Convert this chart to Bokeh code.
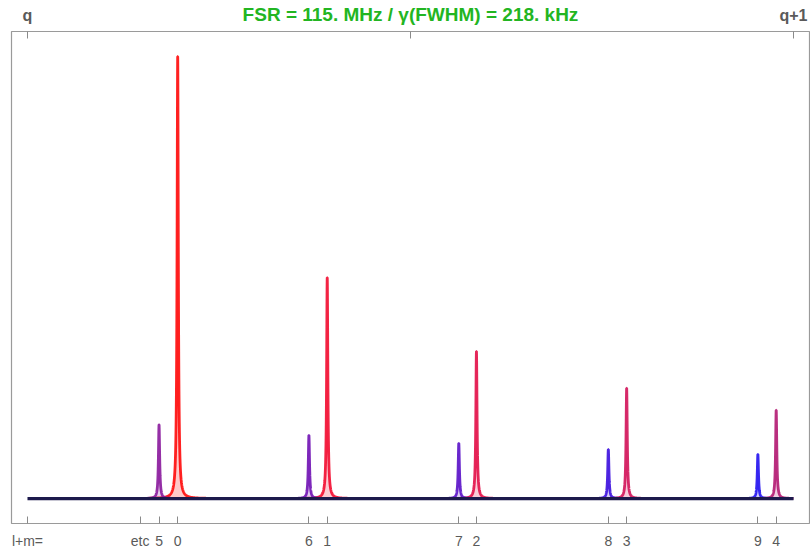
import numpy as np
from bokeh.plotting import figure
from bokeh.models import Range1d, LinearAxis, FixedTicker
from bokeh.embed import file_html
from bokeh.resources import INLINE

# ---- data ----
FSR_MHZ = 115.0
FWHM_MHZ = 0.218
mode_lm = [0, 1, 2, 3, 4, 5, 6, 7, 8, 9]
mode_freq = [22.55, 45.0, 67.4, 89.95, 112.4, 19.75, 42.25, 64.75, 87.2, 109.65]
mode_height = [1.0, 0.50, 0.333, 0.25, 0.20, 0.167, 0.143, 0.125, 0.111, 0.10]
mode_color = ["#ff0a0a", "#f20c30", "#e21048", "#d2145a", "#b21a72",
              "#8a1a9c", "#7012b4", "#5a12c8", "#3c10de", "#2212f0"]
etc_freq = 16.9
bottom_extra = {0.0: "l+m=", etc_freq: "etc"}
top_ticks = [0.0, FSR_MHZ / 2, FSR_MHZ]
top_labels = {0.0: "q", FSR_MHZ / 2: "", FSR_MHZ: "q+1"}
title_text = "FSR = 115. MHz / \u03b3(FWHM) = 218. kHz"

FONT = "Liberation Sans Narrow, Liberation Sans, Arial, sans-serif"

p = figure(width=810, height=553, output_backend="svg", toolbar_location=None,
           x_range=Range1d(-2.4, 117.4), y_range=Range1d(-0.0564, 1.0564),
           min_border_left=11, min_border_right=1, min_border_top=30, min_border_bottom=30,
           x_axis_location=None, y_axis_location=None)
p.xgrid.visible = False
p.ygrid.visible = False
p.outline_line_color = "#9a9a9a"
p.outline_line_width = 1.2
p.background_fill_color = "white"
p.border_fill_color = "white"

hw = FWHM_MHZ / 2.0
for f, h, c in zip(mode_freq, mode_height, mode_color):
    lo, hi = max(0.0, f - 5), min(FSR_MHZ, f + 5)
    x = np.concatenate([np.linspace(lo, f - 0.6, 120), np.linspace(f - 0.6, f + 0.6, 400),
                        np.linspace(f + 0.6, hi, 120)])
    y = h / (1.0 + ((x - f) / hw) ** 2)
    p.varea(x=x, y1=np.zeros_like(x), y2=y, fill_color=c, fill_alpha=0.22)
    p.line(x, y, line_color=c, line_width=2.8, line_alpha=0.9)

# baseline (all resonance curves overlap at zero)
p.line([0.0, FSR_MHZ], [0.0, 0.0], line_color="#1d1a4c", line_width=3.2)

# bottom axis with mode labels
bticks = list(bottom_extra.keys()) + list(mode_freq)
boverrides = dict(bottom_extra)
for n, f in zip(mode_lm, mode_freq):
    boverrides[f] = str(n)
bax = LinearAxis(ticker=FixedTicker(ticks=bticks), major_label_overrides=boverrides)
bax.major_tick_in = 7
bax.major_tick_out = 0
bax.minor_tick_in = 0
bax.minor_tick_out = 0
bax.axis_line_color = None
bax.major_tick_line_color = "#8a8a8a"
bax.major_label_text_font = FONT
bax.major_label_text_font_size = "14px"
bax.major_label_text_color = "#5a5a5a"
bax.major_label_standoff = 9
p.add_layout(bax, "below")

# top axis with q / q+1 and the green title on the same row
tax = LinearAxis(ticker=FixedTicker(ticks=top_ticks), major_label_overrides=top_labels,
                 axis_label=title_text)
tax.major_tick_in = 7
tax.major_tick_out = 0
tax.minor_tick_in = 0
tax.minor_tick_out = 0
tax.axis_line_color = None
tax.major_tick_line_color = "#8a8a8a"
tax.major_label_text_font = FONT
tax.major_label_text_font_size = "16px"
tax.major_label_text_font_style = "bold"
tax.major_label_text_color = "#5a5a5a"
tax.major_label_standoff = 8
tax.axis_label_text_font = FONT
tax.axis_label_text_font_size = "19px"
tax.axis_label_text_font_style = "bold"
tax.axis_label_text_color = "#22b522"
tax.axis_label_standoff = -21
p.add_layout(tax, "above")

open("out.html", "w").write(file_html(p, INLINE))
